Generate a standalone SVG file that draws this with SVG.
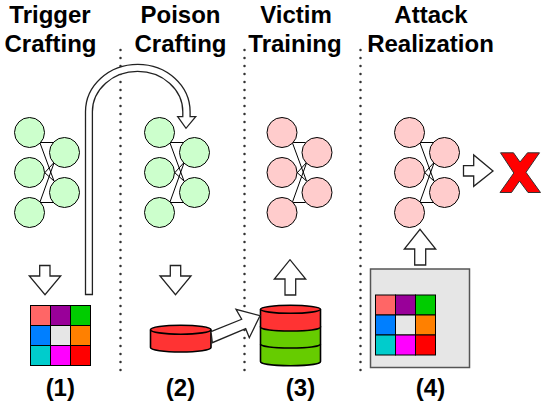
<svg xmlns="http://www.w3.org/2000/svg" width="542" height="409" viewBox="0 0 542 409">
<style>
text{font-family:"Liberation Sans",Arial,sans-serif;font-weight:bold;font-size:24px;fill:#000;text-anchor:middle}
.dot{fill:none;stroke:#333;stroke-width:2.5;stroke-linecap:round;stroke-dasharray:0 8}
.arw{fill:#fff;stroke:#222;stroke-width:1.3;stroke-linejoin:miter}
.gn{fill:#ccffcc;stroke:#000;stroke-width:1}
.pk{fill:#ffcccc;stroke:#000;stroke-width:1}
.w{fill:none;stroke:#000;stroke-width:1}
.cell{stroke:#000;stroke-width:1}
.cyl{stroke:#000;stroke-width:1.6}
</style>
<defs>
<g id="wires"><path class="w" d="M40 142.500H53M40 143L54 181M44.500 173L54 162.500M44 172L54 181M40 202L54 163M40 202.500H53"/></g>
<g id="grid">
<rect class="cell" x="0" y="0" width="20" height="20" fill="#ff6666"/>
<rect class="cell" x="20" y="0" width="20" height="20" fill="#990099"/>
<rect class="cell" x="40" y="0" width="20" height="20" fill="#00cc00"/>
<rect class="cell" x="0" y="20" width="20" height="20" fill="#007fff"/>
<rect class="cell" x="20" y="20" width="20" height="20" fill="#e6e6e6"/>
<rect class="cell" x="40" y="20" width="20" height="20" fill="#ff8000"/>
<rect class="cell" x="0" y="40" width="20" height="20" fill="#00cccc"/>
<rect class="cell" x="20" y="40" width="20" height="20" fill="#ff00ff"/>
<rect class="cell" x="40" y="40" width="20" height="20" fill="#ff0000"/>
</g>
</defs>
<g id="dividers">
<path class="dot" d="M120.500 50V378"/>
<path class="dot" d="M244.500 50V378"/>
<path class="dot" d="M360.500 50V378"/>
</g>
<g id="titles">
<text x="50" y="23">Trigger</text><text x="50.500" y="52">Crafting</text>
<text x="180.500" y="23">Poison</text><text x="180.500" y="52">Crafting</text>
<text x="296" y="23">Victim</text><text x="295" y="52">Training</text>
<text x="431" y="23">Attack</text><text x="430.500" y="52">Realization</text>
</g>
<g id="net1">
<use href="#wires"/>
<circle class="gn" cx="29.500" cy="132.500" r="15"/><circle class="gn" cx="29.500" cy="172.500" r="15"/><circle class="gn" cx="29.500" cy="212.500" r="15"/>
<circle class="gn" cx="64.500" cy="152.500" r="15"/><circle class="gn" cx="64.500" cy="192.500" r="15"/>
</g>
<g id="net2" transform="translate(130 0)">
<use href="#wires"/>
<circle class="gn" cx="29.500" cy="132.500" r="15"/><circle class="gn" cx="29.500" cy="172.500" r="15"/><circle class="gn" cx="29.500" cy="212.500" r="15"/>
<circle class="gn" cx="64.500" cy="152.500" r="15"/><circle class="gn" cx="64.500" cy="192.500" r="15"/>
</g>
<g id="net3" transform="translate(252.500 0)">
<use href="#wires"/>
<circle class="pk" cx="29.500" cy="132.500" r="15"/><circle class="pk" cx="29.500" cy="172.500" r="15"/><circle class="pk" cx="29.500" cy="212.500" r="15"/>
<circle class="pk" cx="64.500" cy="152.500" r="15"/><circle class="pk" cx="64.500" cy="192.500" r="15"/>
</g>
<g id="net4" transform="translate(380 0)">
<use href="#wires"/>
<circle class="pk" cx="29.500" cy="132.500" r="15"/><circle class="pk" cx="29.500" cy="172.500" r="15"/><circle class="pk" cx="29.500" cy="212.500" r="15"/>
<circle class="pk" cx="64.500" cy="152.500" r="15"/><circle class="pk" cx="64.500" cy="192.500" r="15"/>
</g>
<g id="trigger1" transform="translate(30.500 305.500)"><use href="#grid"/></g>
<g id="poison">
<path class="cyl" fill="#ff3333" d="M150.500 329.700V347.500C150.500 350 164 352 180.750 352S211 350 211 347.500V329.700"/>
<ellipse class="cyl" fill="#ff3333" cx="180.750" cy="329.700" rx="30.250" ry="4.500"/>
</g>
<g id="dataset">
<path class="cyl" fill="#66cc00" d="M260.500 327V361.500C260.500 364 274 365.700 290.500 365.700S320.500 364 320.500 361.500V327Z"/>
<path class="cyl" fill="none" d="M260.500 344C260.500 346.500 274 348 290.500 348S320.500 346.500 320.500 344"/>
<path class="cyl" fill="#ff3333" d="M260.500 309.300V327C260.500 329.500 274 331 290.500 331S320.500 329.500 320.500 327V309.300"/>
<ellipse class="cyl" fill="#ff3333" cx="290.500" cy="309.300" rx="30" ry="4"/>
</g>
<g id="box4">
<rect x="370.500" y="269" width="99" height="98.500" fill="#e6e6e6" stroke="#555" stroke-width="1.500"/>
<g transform="translate(375.500 295)"><use href="#grid"/></g>
</g>
<g id="connectors">
<path class="arw" d="M85.500 294.500V111.700A52.300 47.400 0 0 1 190.100 111.700V116.700H195.700L186 128.300L177.700 116.700H182.800V111.700A45.200 40.400 0 0 0 92.400 111.700V294.500Z"/>
<path class="arw" d="M39.700 265.500H50V276H60.700L45 294.700L29.300 276H39.700Z"/>
<path class="arw" d="M170.300 265.500H180.700V276H191L175.500 294.700L160 276H170.300Z"/>
<path class="arw" d="M285 295V279H274.300L290 259.700L305.700 279H295.700V295Z"/>
<path class="arw" d="M414.700 265V249H404.300L420 229.300L435.700 249H425.700V265Z"/>
<path class="arw" d="M463.500 165.700H473.700V155L493 171L473.700 186.300V176H463.500Z"/>
<path class="arw" d="M211 331.700L241.700 319.300L236 309.300L260 315.700L249.300 337.700L245.700 328.700L212.300 342.700Z"/>
</g>
<g id="xmark"><path fill="#ff0000" stroke="#333" stroke-width="1" d="M500.500 152.800H513.500L520 162L527.500 152.800H539.500L526 172.300L540.500 192.500H528L519.500 181L511.500 192.500H500L513.800 173Z"/></g>
<g id="labels">
<text x="60.300" y="396">(1)</text><text x="180.500" y="396">(2)</text><text x="300.500" y="396">(3)</text><text x="430.500" y="396">(4)</text>
</g>
</svg>
